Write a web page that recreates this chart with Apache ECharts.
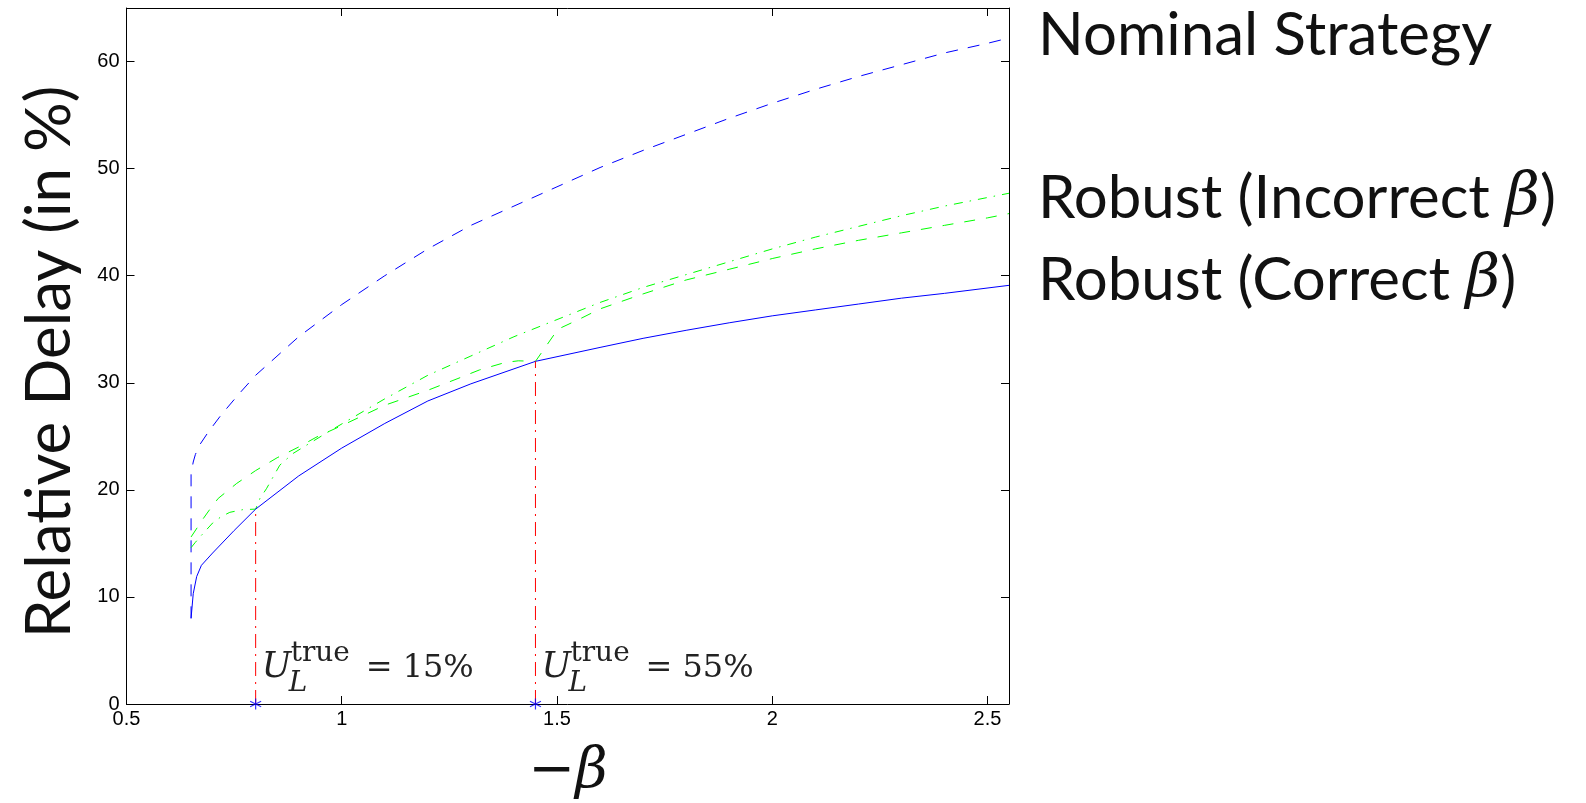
<!DOCTYPE html>
<html><head><meta charset="utf-8">
<script src="https://cdn.jsdelivr.net/npm/echarts@6/dist/echarts.min.js"></script>
<style>html,body{margin:0;padding:0;background:#fff}#c{width:1586px;height:803px}</style>
</head><body><div id="c"></div>
<script>
// ---- data ----
const nominalX = [0.65, 0.65, 0.655, 0.66, 0.67, 0.69, 0.72, 0.76, 0.8, 0.9, 1.0, 1.1, 1.2, 1.3, 1.4, 1.5, 1.6, 1.7, 1.8, 1.9, 2.0, 2.1, 2.2, 2.3, 2.4, 2.5, 2.55];
const nominalY = [8.0, 21.5, 22.6, 23.3, 24.2, 25.4, 27.0, 28.9, 30.7, 34.3, 37.3, 40.0, 42.5, 44.7, 46.5, 48.3, 50.1, 51.7, 53.2, 54.7, 56.1, 57.4, 58.6, 59.7, 60.8, 61.7, 62.2];

const correctX = [0.65, 0.655, 0.663, 0.674, 0.7, 0.75, 0.8, 0.9, 1.0, 1.1, 1.2, 1.3, 1.45, 1.6, 1.7, 1.8, 1.9, 2.0, 2.1, 2.2, 2.3, 2.4, 2.55];
const correctY = [8.0, 10.3, 11.9, 12.95, 14.1, 16.2, 18.2, 21.3, 23.9, 26.2, 28.3, 29.9, 32.0, 33.3, 34.15, 34.9, 35.6, 36.25, 36.8, 37.35, 37.9, 38.35, 39.1];

// incorrect beta, tuned for U_L^true = 15% (touches correct curve at 0.8)
const incorrect15X = [0.65, 0.66, 0.674, 0.7, 0.72, 0.74, 0.77, 0.8, 0.81, 0.825, 0.856, 0.887, 0.968, 1.1, 1.2, 1.3, 1.4, 1.5, 1.6, 1.7, 1.8, 1.9, 2.0, 2.1, 2.2, 2.3, 2.4, 2.5, 2.55];
const incorrect15Y = [14.6, 15.1, 15.75, 16.9, 17.5, 17.9, 18.15, 18.2, 19.2, 20.1, 22.3, 23.4, 25.4, 28.5, 30.7, 32.5, 34.3, 35.9, 37.5, 38.9, 40.1, 41.3, 42.5, 43.6, 44.6, 45.6, 46.5, 47.3, 47.7];

// incorrect beta, tuned for U_L^true = 55% (touches correct curve at 1.45)
const incorrect55X = [0.65, 0.678, 0.694, 0.713, 0.756, 0.8, 0.85, 0.9, 0.94, 1.0, 1.1, 1.2, 1.27, 1.32, 1.38, 1.41, 1.45, 1.47, 1.502, 1.55, 1.6, 1.7, 1.8, 1.9, 2.0, 2.1, 2.2, 2.3, 2.4, 2.5, 2.55];
const incorrect55Y = [15.6, 17.3, 18.2, 19.2, 20.6, 21.8, 23.0, 24.0, 24.9, 26.0, 27.9, 29.3, 30.4, 31.2, 31.9, 32.05, 32.0, 33.15, 35.0, 35.9, 36.9, 38.3, 39.6, 40.6, 41.6, 42.5, 43.3, 44.0, 44.7, 45.4, 45.8];

const markX = [0.8, 1.45];
const markY = [18.2, 32.0];
const markPct = ['15%', '55%'];

const legendNames = ['Nominal Strategy', '', 'Robust (Incorrect β)', 'Robust (Correct β)'];

// ---- chart ----
const zip = (xs, ys) => xs.map((x, i) => [x, ys[i]]);
const BLUE = '#0000ff', GREEN = '#00ff00', RED = '#ff0000';
const SANS = 'Lato', SERIF = 'DejaVu Serif';

const chart = echarts.init(document.getElementById('c'), null, {renderer: 'canvas'});

const axisCommon = {
  type: 'value',
  splitLine: {show: false},
  axisLine: {show: true, onZero: false, lineStyle: {color: '#000', width: 1}},
  axisTick: {show: true, inside: true, length: 8, lineStyle: {color: '#000', width: 1}}
};
const lineSeries = (name, data, color, type) => ({
  type: 'line', name, data, showSymbol: false, symbol: 'none', smooth: false,
  lineStyle: {color, width: 1, type}, itemStyle: {color}, z: 3, animation: false, silent: true
});

const series = [
  lineSeries('Nominal Strategy', zip(nominalX, nominalY), BLUE, [12, 10]),
  lineSeries('Robust (Incorrect β) 55%', zip(incorrect55X, incorrect55Y), GREEN, [11, 11]),
  lineSeries('Robust (Incorrect β) 15%', zip(incorrect15X, incorrect15Y), GREEN, [9, 7, 1.5, 7]),
  lineSeries('Robust (Correct β)', zip(correctX, correctY), BLUE, 'solid')
];
markX.forEach((x, i) => {
  series.push(lineSeries('marker' + i, [[x, 0], [x, markY[i]]], RED, [14, 6, 2, 6]));
});
series.push({
  type: 'scatter', name: 'stars', data: markX.map(x => [x, 0]),
  symbol: 'path://M5,0L5,10M0.67,2.5L9.33,7.5M0.67,7.5L9.33,2.5',
  symbolSize: 11, clip: false, z: 5, silent: true, animation: false,
  itemStyle: {color: 'rgba(0,0,0,0)', borderColor: BLUE, borderWidth: 1.2}
});

chart.setOption({
  backgroundColor: '#fff',
  animation: false,
  grid: {left: 126.5, right: 577, top: 8, bottom: 99, containLabel: false, outerBoundsMode: 'none'},
  xAxis: [
    Object.assign({}, axisCommon, {position: 'bottom', min: 0.5, max: 2.55, interval: 0.5,
      axisLabel: {show: true, color: '#000', fontSize: 20, fontFamily: 'Liberation Sans', margin: 5, showMaxLabel: false}}),
    Object.assign({}, axisCommon, {position: 'top', min: 0.5, max: 2.55, interval: 0.5, axisLabel: {show: false}})
  ],
  yAxis: [
    Object.assign({}, axisCommon, {position: 'left', min: 0, max: 65, interval: 10,
      axisLabel: {show: true, color: '#000', fontSize: 20, fontFamily: 'Liberation Sans', margin: 7, showMaxLabel: false}}),
    Object.assign({}, axisCommon, {position: 'right', min: 0, max: 65, interval: 10, axisLabel: {show: false}})
  ],
  series
});

// ---- text annotations, placed through the chart's own scales ----
function txt(text, x, baseline, size, font, extra) {
  const off = font.indexOf('Serif') >= 0 ? 0.35 : 0.39;
  return Object.assign({
    type: 'text', x: x, y: baseline - off * size, silent: true, z: 20,
    style: Object.assign({text, font: size + 'px ' + font, fill: '#000', align: 'left', verticalAlign: 'middle'}, extra || {})
  });
}
const g = [];
markX.forEach((x, i) => {
  const p = chart.convertToPixel({xAxisIndex: 0, yAxisIndex: 0}, [x, 0]);
  const px = p[0], py = p[1];
  g.push(txt('U', px + 6, py - 24, 35, SERIF, {font: 'italic 35px ' + SERIF, fill: '#222'}));
  g.push(txt('true', px + 35, py - 40, 28, SERIF, {fill: '#222'}));
  g.push(txt('L', px + 33, py - 10, 28, SERIF, {font: 'italic 28px ' + SERIF, fill: '#222'}));
  g.push(txt('= ' + markPct[i], px + 110, py - 24, 32, SERIF, {fill: '#222'}));
});

// legend (text only, as in the reference)
const legendBase = [55, 137, 218, 300];
legendNames.forEach((n, i) => {
  if (!n) return;
  const parts = n.split('β');
  const text = parts.length > 1 ? parts[0] + '{b|β}' + parts[1] : n;
  g.push({
    type: 'text', left: 1038, top: legendBase[i] - 49, silent: true, z: 20,
    style: {text, font: '60px ' + SANS, fill: '#111', rich: {b: {font: 'italic 60px ' + SERIF, fill: '#111'}}}
  });
});

// axis titles
g.push({
  type: 'text', x: 50, y: 362, rotation: Math.PI / 2, silent: true, z: 20,
  style: {text: 'Relative Delay (in %)', font: '62px ' + SANS, fill: '#111', align: 'center', verticalAlign: 'middle'}
});
g.push({
  type: 'text', x: 568, y: 772, silent: true, z: 20,
  style: {text: '−{b|β}', font: '56px ' + SERIF, fill: '#111', align: 'center', verticalAlign: 'middle',
    rich: {b: {font: 'italic 56px ' + SERIF, fill: '#111'}}}
});

chart.setOption({graphic: g});
</script>
</body></html>
